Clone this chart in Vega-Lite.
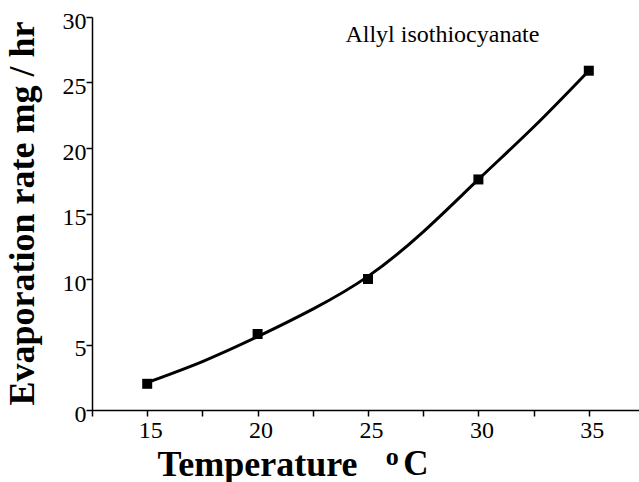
{
  "$schema": "https://vega.github.io/schema/vega-lite/v6.json",
  "autosize": "none",
  "width": 552,
  "height": 393,
  "padding": {"left": 92, "top": 17, "right": 0, "bottom": 72},
  "background": "white",
  "config": {
    "view": {"stroke": null},
    "font": "Liberation Serif",
    "axis": {
      "grid": false,
      "domainColor": "black",
      "domainWidth": 1.5,
      "tickColor": "black",
      "tickWidth": 1.5,
      "tickSize": 6,
      "labelFont": "Liberation Serif",
      "labelFontSize": 24,
      "labelColor": "black",
      "titleFont": "Liberation Serif",
      "titleFontSize": 36,
      "titleFontWeight": "bold",
      "titleColor": "black"
    }
  },
  "datasets": {
    "measured": [
      {"temperature": 15, "rate": 2.0},
      {"temperature": 20, "rate": 5.8},
      {"temperature": 25, "rate": 10.0},
      {"temperature": 30, "rate": 17.6},
      {"temperature": 35, "rate": 25.9}
    ],
    "fit": [
      {"temperature": 15, "rate": 2.1},
      {"temperature": 17.5, "rate": 3.7},
      {"temperature": 20, "rate": 5.6},
      {"temperature": 22.5, "rate": 7.7},
      {"temperature": 25, "rate": 10.2},
      {"temperature": 27.5, "rate": 13.6},
      {"temperature": 30, "rate": 17.6},
      {"temperature": 32.5, "rate": 21.6},
      {"temperature": 35, "rate": 25.9}
    ],
    "note": [{"label": "Allyl isothiocyanate"}]
  },
  "layer": [
    {
      "data": {"name": "fit"},
      "mark": {"type": "line", "color": "black", "strokeWidth": 3, "interpolate": "natural"},
      "encoding": {
        "x": {
          "field": "temperature", "type": "quantitative",
          "scale": {"domain": [12.5, 37.5], "nice": false, "zero": false},
          "axis": {
            "values": [12.5, 15, 17.5, 20, 22.5, 25, 27.5, 30, 32.5, 35, 37.5],
            "labelExpr": "datum.value % 5 === 0 ? datum.label : ''",
            "labelPadding": 2,
            "labelOffset": 3,
            "title": "Temperature",
            "titleAnchor": "start",
            "titleAlign": "left",
            "titleX": 65,
            "titleY": 65,
            "titleBaseline": "alphabetic"
          }
        },
        "y": {
          "field": "rate", "type": "quantitative",
          "scale": {"domain": [0, 30], "nice": false},
          "axis": {
            "values": [0, 2.5, 5, 7.5, 10, 12.5, 15, 17.5, 20, 22.5, 25, 27.5, 30],
            "labelExpr": "datum.value % 5 === 0 ? datum.label : ''",
            "labelPadding": 0,
            "labelOffset": 4,
            "title": "Evaporation rate mg / hr",
            "titleX": -59,
            "titleY": 196,
            "titleAlign": "center",
            "titleBaseline": "alphabetic"
          }
        }
      }
    },
    {
      "data": {"name": "measured"},
      "mark": {"type": "point", "shape": "square", "filled": true, "color": "black", "opacity": 1, "size": 100},
      "encoding": {
        "x": {"field": "temperature", "type": "quantitative"},
        "y": {"field": "rate", "type": "quantitative"}
      }
    },
    {
      "data": {"name": "note"},
      "mark": {"type": "text", "font": "Liberation Serif", "fontSize": 24, "color": "black", "align": "center", "baseline": "alphabetic"},
      "encoding": {"x": {"datum": 28.37}, "y": {"datum": 28.06}, "text": {"field": "label"}}
    },
    {
      "data": {"values": [{"unit": "o"}]},
      "mark": {"type": "text", "font": "Liberation Serif", "fontSize": 26, "fontWeight": "bold", "color": "black", "align": "left", "baseline": "alphabetic", "clip": false},
      "encoding": {"x": {"datum": 25.8}, "y": {"datum": -4.2}, "text": {"field": "unit"}}
    },
    {
      "data": {"values": [{"unit": "C"}]},
      "mark": {"type": "text", "font": "Liberation Serif", "fontSize": 35, "fontWeight": "bold", "color": "black", "align": "left", "baseline": "alphabetic", "clip": false},
      "encoding": {"x": {"datum": 26.6}, "y": {"datum": -4.97}, "text": {"field": "unit"}}
    }
  ]
}
